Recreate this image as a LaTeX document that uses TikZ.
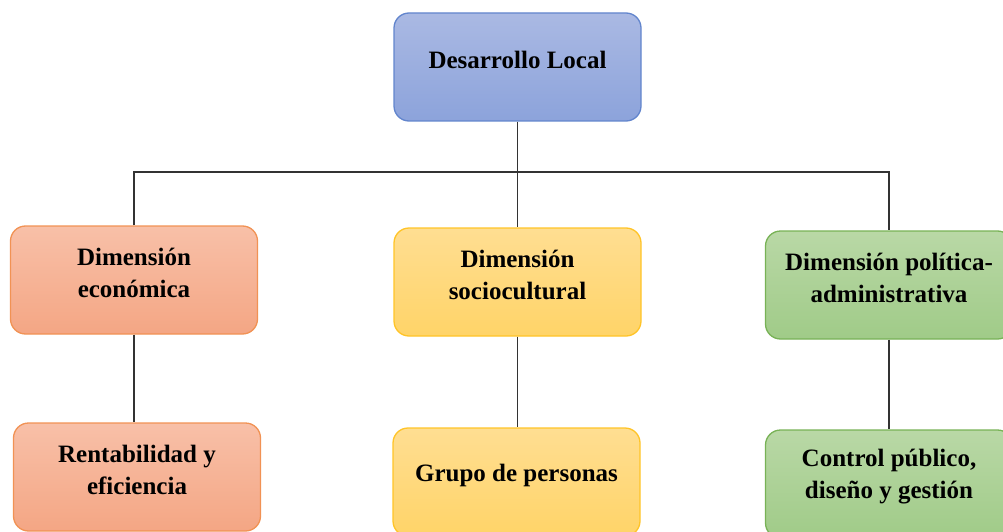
\documentclass[tikz,border=0pt]{standalone}
\usepackage{fontspec}
\setmainfont{Liberation Serif}

\definecolor{dlline}{RGB}{98,133,205}
\definecolor{dltop}{RGB}{170,185,227}
\definecolor{dlbot}{RGB}{140,163,219}
\definecolor{ecoline}{RGB}{241,146,84}
\definecolor{ecotop}{RGB}{248,192,168}
\definecolor{ecobot}{RGB}{244,166,132}
\definecolor{socline}{RGB}{255,196,40}
\definecolor{soctop}{RGB}{255,222,146}
\definecolor{socbot}{RGB}{255,212,104}
\definecolor{polline}{RGB}{120,178,86}
\definecolor{poltop}{RGB}{185,216,166}
\definecolor{polbot}{RGB}{160,203,136}

\begin{document}
\begin{tikzpicture}[x=1pt, y=-1pt]

    \tikzstyle{box}=[draw, line width=1.3pt, rounded corners=15pt, minimum width=247pt, minimum height=108pt, inner sep=0pt];
    \tikzstyle{txt}=[font=\bfseries\fontsize{25}{32}\selectfont, align=center, yshift=7pt];
    \tikzstyle{link}=[line width=1.5pt, draw=black!80];

    \useasboundingbox (0,0) rectangle (1003,532);
    \clip (0,0) rectangle (1003,532);

    \node[box, draw=dlline, top color=dltop, bottom color=dlbot, label={[txt]center:Desarrollo Local}] (dl) at (517.5,67) {};

    \node[box, draw=ecoline, top color=ecotop, bottom color=ecobot, label={[txt]center:Dimensión\\económica}] (eco) at (134,280) {};
    \node[box, draw=socline, top color=soctop, bottom color=socbot, label={[txt]center:Dimensión\\sociocultural}] (soc) at (517.5,282) {};
    \node[box, draw=polline, top color=poltop, bottom color=polbot, label={[txt]center:Dimensión política-\\administrativa}] (pol) at (889,285) {};

    \node[box, draw=ecoline, top color=ecotop, bottom color=ecobot, label={[txt]center:Rentabilidad y\\eficiencia}] (ren) at (137,477) {};
    \node[box, draw=socline, top color=soctop, bottom color=socbot, label={[txt]center:Grupo de personas}] (gru) at (516.5,482) {};
    \node[box, draw=polline, top color=poltop, bottom color=polbot, label={[txt]center:{Control público,\\diseño y gestión}}] (con) at (889,484) {};

    \coordinate (bus) at (517.5,172);

    \draw[link] (dl) -- (soc);
    \draw[link] (eco.north) |- (bus) -| (pol.north);

    \draw[link] (eco.south) -- (eco.south |- ren.north);
    \draw[link] (soc.south) -- (soc.south |- gru.north);
    \draw[link] (pol) -- (con);

\end{tikzpicture}
\end{document}
